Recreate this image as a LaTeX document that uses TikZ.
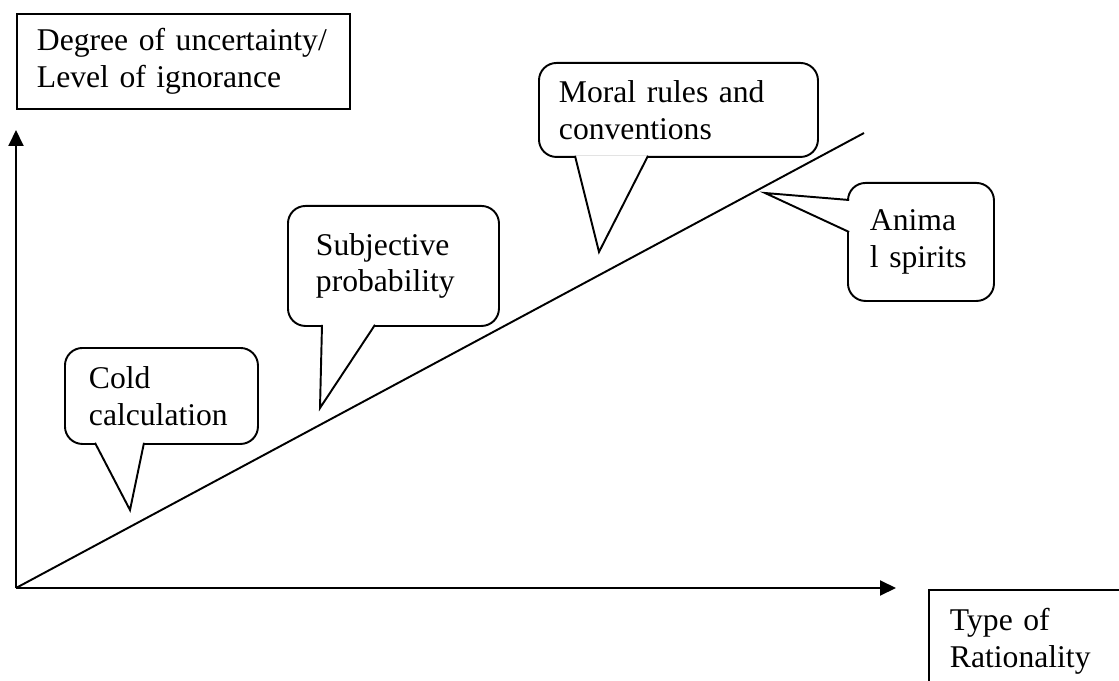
\documentclass[tikz,border=0pt]{standalone}
\usepackage{fontspec}
\setmainfont{Liberation Serif}
\usetikzlibrary{arrows.meta}

\begin{document}
\begin{tikzpicture}[x=0.2mm, y=-0.2mm, line width=1.1pt, >={Triangle[length=3.2mm, width=3mm]},
	every node/.style={font=\fontsize{18}{21}\selectfont, align=left, anchor=north west, inner ysep=0pt},
	lbl/.style={draw, rectangle},
	bubble/.style={draw, fill=white, rounded corners=3.5mm},
	tail/.style={fill=white, line join=miter}]
	\useasboundingbox (0,0) rectangle (1119,681);
	\coordinate (O) at (16,588); \coordinate (ytip) at (16,130); \coordinate (xtip) at (896,588);
	\coordinate (top) at (864,133);
	\draw[->] (O) -- (ytip);
	\draw[->] (O) -- (xtip);
	\draw (O) -- (top);
	\node[lbl, text width=58.6mm, inner xsep=4mm, minimum height=19mm] (ylab) at (16,13) {Degree of uncertainty/\\Level of ignorance};
	\node[lbl, text width=35.6mm, inner xsep=4.2mm, minimum height=20.4mm] (xlab) at (928,589) {Type of\\Rationality};
	\coordinate (coldtip) at (130,510); \coordinate (subjtip) at (320,408);
	\coordinate (moraltip) at (599,252); \coordinate (animatip) at (765,193);
	\node[bubble, text width=29mm, inner xsep=4.8mm, minimum height=19.2mm] (cold) at (64,347) {Cold\\calculation};
	\draw[tail] ([xshift=6.2mm, yshift=1.2pt]cold.south west) -- (coldtip) -- ([xshift=16mm, yshift=1.2pt]cold.south west);
	\node[bubble, text width=31mm, inner xsep=5.6mm, minimum height=24mm] (subj) at (287,205) {Subjective\\probability};
	\draw[tail] ([xshift=7mm, yshift=1.2pt]subj.south west) -- (subjtip) -- ([xshift=17.6mm, yshift=1.2pt]subj.south west);
	\node[bubble, text width=47.8mm, inner xsep=4mm, minimum height=18.8mm] (moral) at (538,62) {Moral rules and\\conventions};
	\draw[tail] ([xshift=7.4mm, yshift=1.2pt]moral.south west) -- (moraltip) -- ([xshift=22mm, yshift=1.2pt]moral.south west);
	\node[bubble, text width=20.4mm, inner xsep=4.4mm, minimum height=23.6mm] (anima) at (847,182) {Anima\\l~spirits};
	\draw[tail] ([xshift=1.2pt, yshift=-3.6mm]anima.north west) -- (animatip) -- ([xshift=1.2pt, yshift=-10mm]anima.north west);
\end{tikzpicture}
\end{document}
